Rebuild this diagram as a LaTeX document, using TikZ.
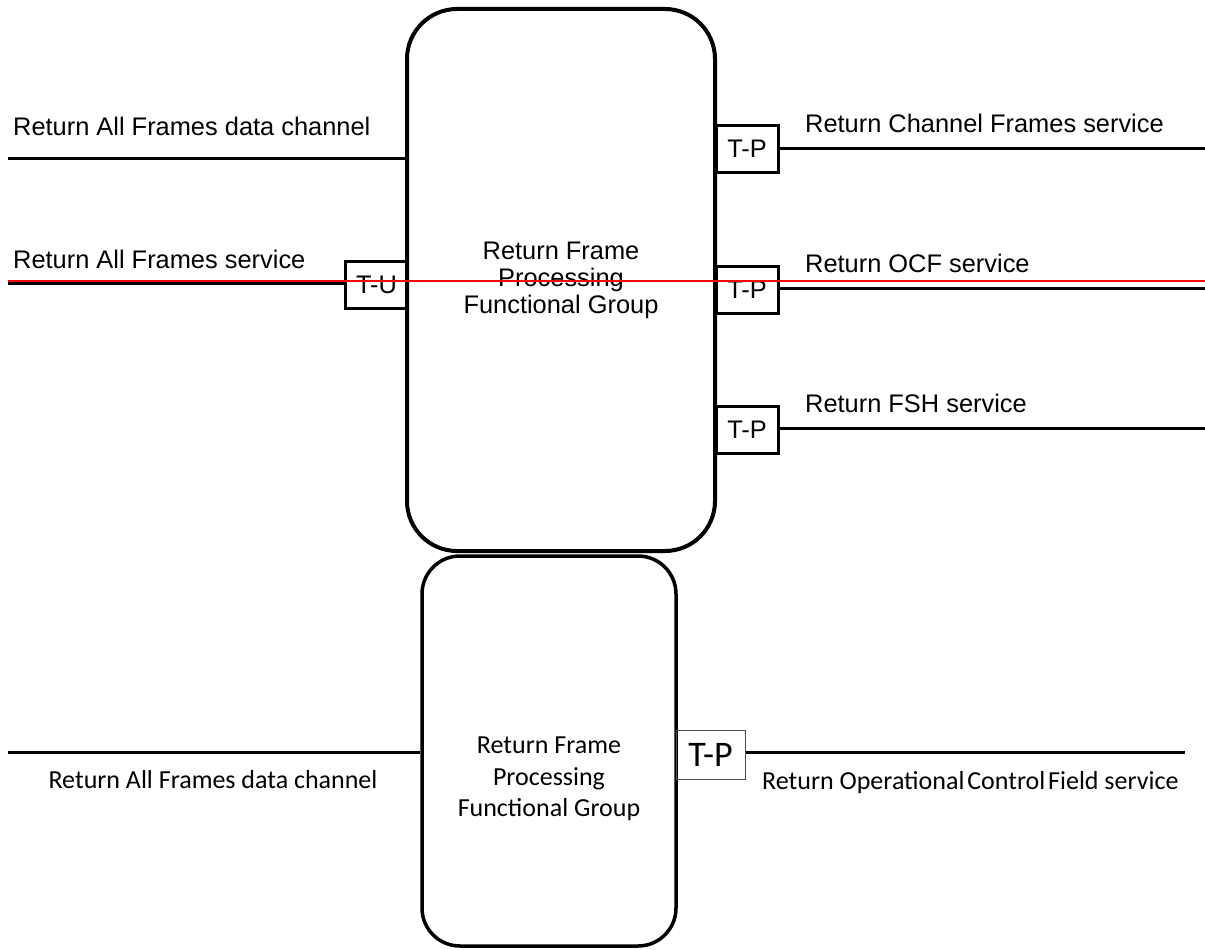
\documentclass[tikz,border=0pt]{standalone}
\usepackage{fontspec}
\setmainfont{Liberation Sans}
\newfontfamily\calfont{Carlito}
\tikzset{
  arialtxt/.style={font=\fontsize{25.4}{27}\selectfont, inner sep=0pt},
  caltxt/.style={font=\calfont\fontsize{26}{31.5}\selectfont, inner sep=0pt},
  bigbox/.style={draw, line width=4pt, rounded corners=50pt, inner sep=0pt},
  smallbox/.style={draw, line width=3.5pt, rounded corners=38pt, inner sep=0pt},
  portbox/.style={draw, line width=3pt, inner sep=0pt, minimum width=62pt, minimum height=47pt, font=\fontsize{25.4}{30}\selectfont},
  thinport/.style={draw=black!70, line width=1pt, inner sep=0pt, minimum width=69pt, minimum height=49pt, font=\calfont\fontsize{36}{40}\selectfont},
  conn/.style={line width=3pt},
}
\begin{document}
\begin{tikzpicture}[x=1pt,y=-1pt]
\useasboundingbox (0,0) rectangle (1205,950);
% boxes
\node[bigbox, minimum width=308pt, minimum height=542pt, align=center, arialtxt] (big) at (561,280) {Return Frame\\Processing\\Functional Group};
\node[smallbox, minimum width=254pt, minimum height=390pt] (small) at (549,751) {};
\node[caltxt, align=center] (smalltxt) at (549,779) {Return Frame\\Processing\\Functional Group};
% ports
\node[portbox] (TU) at (376.5,285) {T-U};
\node[portbox] (TP1) at (747,149) {T-P};
\node[portbox] (TP2) at (747,290) {T-P};
\node[portbox] (TP3) at (747,429.5) {T-P};
\node[thinport] (TP4) at (710.5,754.5) {T-P};
% free ends
\coordinate (a1) at (8,158);
\coordinate (a2) at (8,283);
\coordinate (b1) at (1205,148);
\coordinate (b2) at (1205,288);
\coordinate (b3) at (1205,428);
\coordinate (c1) at (8,752);
\coordinate (c2) at (1185,752);
% connectors
\draw[conn] (a1) -- (a1 -| big.west);
\draw[conn] (a2) -- (a2 -| TU.west);
\draw[conn] (b1 -| TP1.east) -- (b1);
\draw[conn] (b2 -| TP2.east) -- (b2);
\draw[conn] (b3 -| TP3.east) -- (b3);
\draw[conn] (c1) -- (c1 -| small.west);
\draw[conn] (c2 -| TP4.east) -- (c2);
% labels
\node[arialtxt, anchor=base west] (l1) at (13,135) {Return All Frames data channel};
\node[arialtxt, anchor=base west] (l2) at (13,268) {Return All Frames service};
\node[arialtxt, anchor=base west] (r1) at (805,132) {Return Channel Frames service};
\node[arialtxt, anchor=base west] (r2) at (805,272) {Return OCF service};
\node[arialtxt, anchor=base west] (r3) at (805,412) {Return FSH service};
\node[caltxt, anchor=base] (bl) at (213,788) {Return All Frames data channel};
\node[caltxt, anchor=base west] (br) at (762,789) {Return Operational\hspace{-3pt} Control\hspace{-3pt} Field service};
% red line
\coordinate (rl) at (8,281);
\coordinate (rr) at (1205,281);
\draw[red, line width=2pt] (rl) -- (rr);
\end{tikzpicture}
\end{document}
